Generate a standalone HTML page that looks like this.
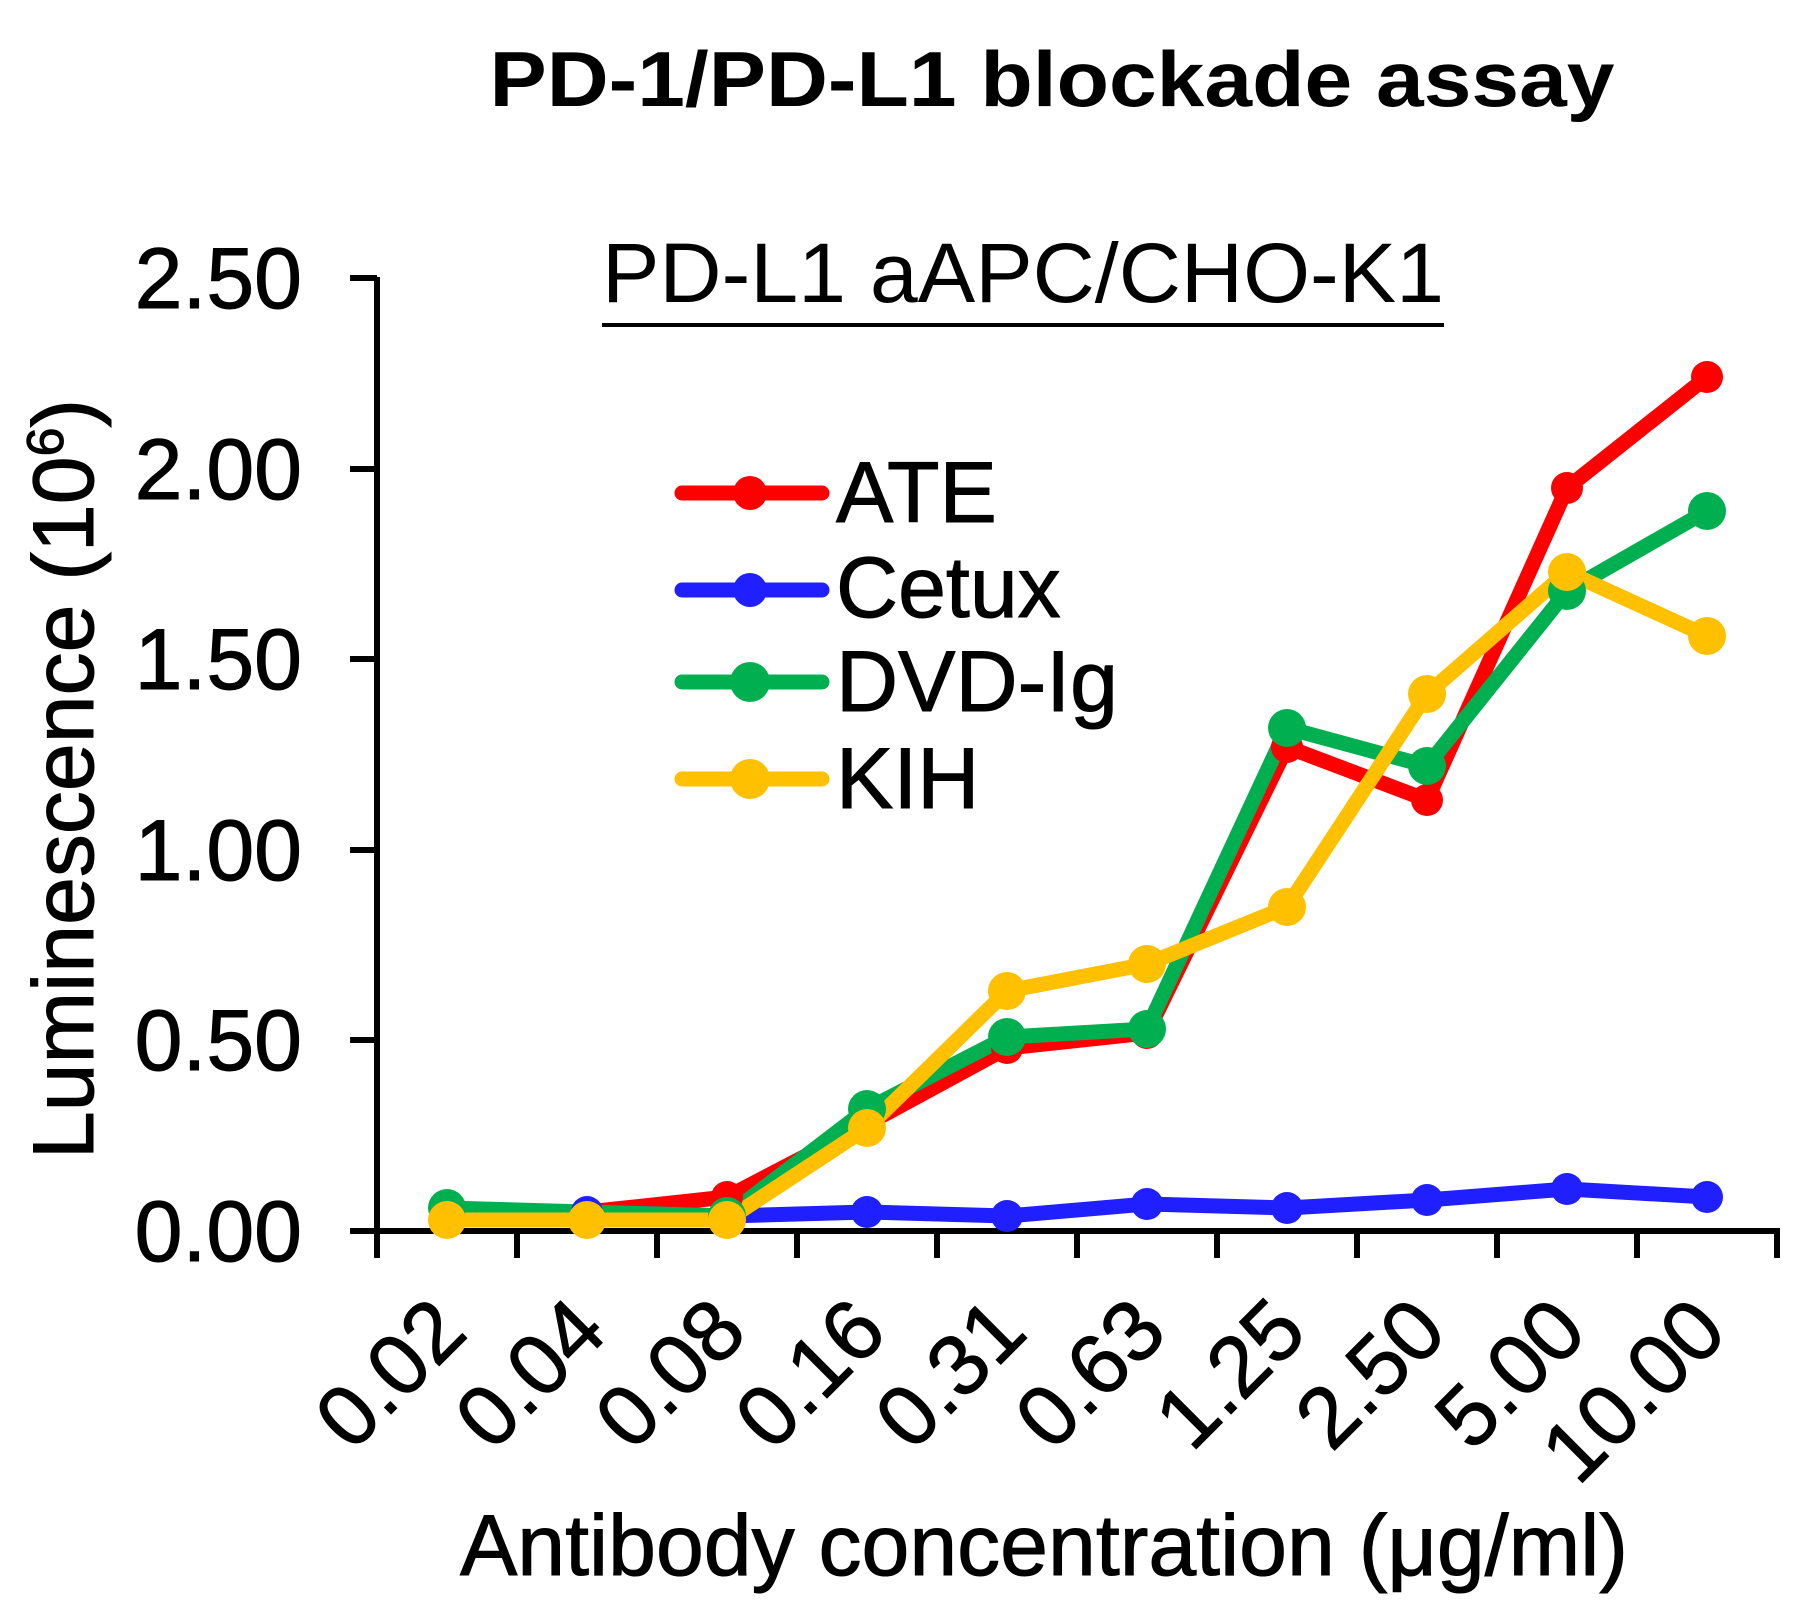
<!DOCTYPE html>
<html><head><meta charset="utf-8"><style>
html,body{margin:0;padding:0;background:#fff;}
svg{display:block;}
text{font-family:"Liberation Sans",Arial,sans-serif;fill:#000;}
</style></head><body>
<svg width="1809" height="1612" viewBox="0 0 1809 1612" xmlns="http://www.w3.org/2000/svg">
<text x="1052" y="106" font-size="78" font-weight="bold" text-anchor="middle" textLength="1125" lengthAdjust="spacingAndGlyphs">PD-1/PD-L1 blockade assay</text>
<text x="1023" y="302" font-size="84" text-anchor="middle" textLength="842" lengthAdjust="spacingAndGlyphs">PD-L1 aAPC/CHO-K1</text>
<rect x="602" y="323" width="842" height="4" fill="#000"/>
<!-- axes -->
<g stroke="#000" stroke-width="6" fill="none">
<line x1="377" y1="277" x2="377" y2="1233"/>
<line x1="350" y1="1231" x2="1780" y2="1231"/>
<line x1="350" y1="278" x2="377" y2="278"/>
<line x1="350" y1="469" x2="377" y2="469"/>
<line x1="350" y1="659" x2="377" y2="659"/>
<line x1="350" y1="850" x2="377" y2="850"/>
<line x1="350" y1="1040" x2="377" y2="1040"/>
<line x1="377" y1="1231" x2="377" y2="1258"/>
<line x1="517" y1="1231" x2="517" y2="1258"/>
<line x1="657" y1="1231" x2="657" y2="1258"/>
<line x1="797" y1="1231" x2="797" y2="1258"/>
<line x1="937" y1="1231" x2="937" y2="1258"/>
<line x1="1077" y1="1231" x2="1077" y2="1258"/>
<line x1="1217" y1="1231" x2="1217" y2="1258"/>
<line x1="1357" y1="1231" x2="1357" y2="1258"/>
<line x1="1497" y1="1231" x2="1497" y2="1258"/>
<line x1="1637" y1="1231" x2="1637" y2="1258"/>
<line x1="1777" y1="1231" x2="1777" y2="1258"/>
</g>
<g font-size="86" text-anchor="end" stroke="#000" stroke-width="1">
<text x="302" y="308">2.50</text>
<text x="302" y="499">2.00</text>
<text x="302" y="689">1.50</text>
<text x="302" y="880">1.00</text>
<text x="302" y="1070">0.50</text>
<text x="302" y="1261">0.00</text>
</g>
<text transform="translate(93,779) rotate(-90)" font-size="86" text-anchor="middle" stroke="#000" stroke-width="1">Luminescence (10<tspan font-size="52" dy="-30">6</tspan><tspan dy="30">)</tspan></text>
<g font-size="86" text-anchor="end" stroke="#000" stroke-width="1">
<text transform="translate(470,1335) rotate(-45)">0.02</text>
<text transform="translate(610,1335) rotate(-45)">0.04</text>
<text transform="translate(750,1335) rotate(-45)">0.08</text>
<text transform="translate(890,1335) rotate(-45)">0.16</text>
<text transform="translate(1030,1335) rotate(-45)">0.31</text>
<text transform="translate(1170,1335) rotate(-45)">0.63</text>
<text transform="translate(1310,1335) rotate(-45)">1.25</text>
<text transform="translate(1450,1335) rotate(-45)">2.50</text>
<text transform="translate(1590,1335) rotate(-45)">5.00</text>
<text transform="translate(1730,1335) rotate(-45)">10.00</text>
</g>
<text x="1044" y="1575" font-size="86" text-anchor="middle" stroke="#000" stroke-width="1">Antibody concentration (μg/ml)</text>
<g fill="none" stroke-width="15" stroke-linejoin="round" stroke-linecap="round">
<polyline stroke="#ff0000" points="447,1212 587,1212 727,1197 867,1124 1007,1048 1147,1033 1287,747 1427,800 1567,488 1707,377"/>
<polyline stroke="#1f1fff" points="447,1212 587,1212 727,1216 867,1212 1007,1216 1147,1204 1287,1208 1427,1200 1567,1189 1707,1197"/>
<polyline stroke="#00b050" points="447,1208 587,1212 727,1216 867,1109 1007,1037 1147,1029 1287,728 1427,766 1567,591 1707,511"/>
<polyline stroke="#ffc000" points="447,1220 587,1220 727,1220 867,1128 1007,991 1147,964 1287,907 1427,694 1567,572 1707,636"/>
</g>
<g fill="#ff0000"><circle cx="727" cy="1197" r="16"/><circle cx="867" cy="1124" r="16"/><circle cx="1007" cy="1048" r="16"/><circle cx="1147" cy="1033" r="16"/><circle cx="1287" cy="747" r="16"/><circle cx="1427" cy="800" r="16"/><circle cx="1567" cy="488" r="16"/><circle cx="1707" cy="377" r="16"/></g>
<g fill="#1f1fff"><circle cx="587" cy="1212" r="16"/><circle cx="867" cy="1212" r="16"/><circle cx="1007" cy="1216" r="16"/><circle cx="1147" cy="1204" r="16"/><circle cx="1287" cy="1208" r="16"/><circle cx="1427" cy="1200" r="16"/><circle cx="1567" cy="1189" r="16"/><circle cx="1707" cy="1197" r="16"/></g>
<g fill="#00b050"><circle cx="447" cy="1208" r="19"/><circle cx="727" cy="1216" r="19"/><circle cx="867" cy="1109" r="19"/><circle cx="1007" cy="1037" r="19"/><circle cx="1147" cy="1029" r="19"/><circle cx="1287" cy="728" r="19"/><circle cx="1427" cy="766" r="19"/><circle cx="1567" cy="591" r="19"/><circle cx="1707" cy="511" r="19"/></g>
<g fill="#ffc000"><circle cx="447" cy="1220" r="19"/><circle cx="587" cy="1220" r="19"/><circle cx="727" cy="1220" r="19"/><circle cx="867" cy="1128" r="19"/><circle cx="1007" cy="991" r="19"/><circle cx="1147" cy="964" r="19"/><circle cx="1287" cy="907" r="19"/><circle cx="1427" cy="694" r="19"/><circle cx="1567" cy="572" r="19"/><circle cx="1707" cy="636" r="19"/></g>
<g stroke-width="15" stroke-linecap="round">
<line x1="682" y1="493" x2="822" y2="493" stroke="#ff0000"/>
<line x1="682" y1="590" x2="822" y2="590" stroke="#1f1fff"/>
<line x1="682" y1="682" x2="822" y2="682" stroke="#00b050"/>
<line x1="682" y1="779" x2="822" y2="779" stroke="#ffc000"/>
</g>
<circle cx="750" cy="493" r="17" fill="#ff0000"/>
<circle cx="750" cy="590" r="17" fill="#1f1fff"/>
<circle cx="750" cy="682" r="20" fill="#00b050"/>
<circle cx="750" cy="779" r="20" fill="#ffc000"/>
<g font-size="86" stroke="#000" stroke-width="1">
<text x="836" y="522">ATE</text>
<text x="836" y="617">Cetux</text>
<text x="836" y="711">DVD-Ig</text>
<text x="836" y="808">KIH</text>
</g>
</svg>
</body></html>
